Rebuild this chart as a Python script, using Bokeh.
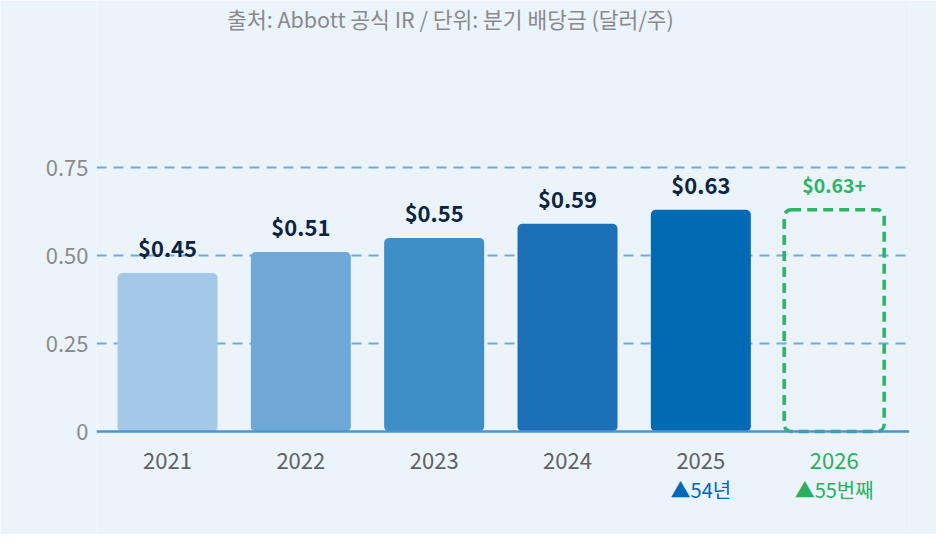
from bokeh.plotting import figure
from bokeh.models import ColumnDataSource, FixedTicker, Label, Range1d, Span
from bokeh.core.properties import value
from bokeh.embed import file_html
from bokeh.resources import INLINE

# ---- data ----
years = ["2021", "2022", "2023", "2024", "2025", "2026"]
dividends = [0.45, 0.51, 0.55, 0.59, 0.63]
forecast_value = 0.63
forecast_label = "$0.63+"
bar_colors = ["#A3C8E8", "#6FA8D6", "#3E8FC7", "#1B70B7", "#006AB2"]
year_colors = ["#5F5F5F", "#5F5F5F", "#5F5F5F", "#5F5F5F", "#5F5F5F", "#2BAE5E"]
note_years = ["2025", "2026"]
note_texts = ["▲54년", "▲55번째"]
note_colors = ["#0068B5", "#2BAE5E"]
y_ticks = [0, 0.25, 0.5, 0.75]
y_tick_labels = ["0", "0.25", "0.50", "0.75"]
title_text = "출처: Abbott 공식 IR / 단위: 분기 배당금 (달러/주)"

BG = "#EBF3FB"
GREEN = "#2DB464"
FONT = "Noto Sans CJK KR"

xs = list(range(len(years)))
bar_src = ColumnDataSource(dict(
    x=xs[:len(dividends)], top=dividends, color=bar_colors,
    label=["$%.2f" % v for v in dividends]))
fc_src = ColumnDataSource(dict(x=[xs[len(dividends)]], top=[forecast_value], label=[forecast_label]))
year_src = ColumnDataSource(dict(x=xs, y=[0] * len(xs), text=years, color=year_colors))
note_src = ColumnDataSource(dict(x=[years.index(y) for y in note_years], y=[0] * len(note_years),
                                 text=note_texts, color=note_colors))

PX = 352.0  # pixels per dollar on the y scale
p = figure(width=936, height=534, output_backend="svg", toolbar_location=None,
           x_range=Range1d(-0.5325, 5.565), y_range=Range1d(-103 / PX, 431 / PX),
           min_border_left=96, min_border_right=27, min_border_top=0, min_border_bottom=0,
           background_fill_color=BG, border_fill_color=BG, outline_line_color=None)

# grid
p.xgrid.grid_line_color = None
p.ygrid.grid_line_color = "#6AAEDD"
p.ygrid.grid_line_width = 2
p.ygrid.grid_line_dash = "10 7"
p.ygrid.ticker = FixedTicker(ticks=y_ticks[1:])

# y axis
p.yaxis.ticker = FixedTicker(ticks=y_ticks)
p.yaxis.major_label_overrides = {t: l for t, l in zip(y_ticks, y_tick_labels)}
p.yaxis.axis_line_color = None
p.yaxis.major_tick_line_color = None
p.yaxis.minor_tick_line_color = None
p.yaxis.major_label_standoff = 2
p.yaxis.major_label_text_font = FONT
p.yaxis.major_label_text_font_size = "22px"
p.yaxis.major_label_text_color = "#8A8A8A"

# x axis hidden; baseline drawn as a span at zero
p.xaxis.visible = False
p.add_layout(Span(location=0, dimension="width", line_color="#4F93CC", line_width=2.5))

# bars
p.vbar(x="x", top="top", bottom=0, width=0.75, source=bar_src, fill_color="color",
       line_color=None, border_radius=5)
p.vbar(x="x", top="top", bottom=0, width=0.75, source=fc_src, fill_alpha=0,
       line_color=GREEN, line_width=3.5, line_dash="10 6", border_radius=7)

# value labels
p.text(x="x", y="top", text="label", source=bar_src, text_align="center",
       text_baseline="alphabetic", y_offset=-26, text_font=value(FONT),
       text_font_style="bold", text_font_size="22px", text_color="#0B2540")
p.text(x="x", y="top", text="label", source=fc_src, text_align="center",
       text_baseline="alphabetic", y_offset=-25, text_font=value(FONT),
       text_font_style="bold", text_font_size="19.5px", text_color=GREEN)

# category labels
p.text(x="x", y="y", text="text", source=year_src, text_align="center",
       text_baseline="middle", y_offset=29, text_font=value(FONT),
       text_font_size="22px", text_color="color")
p.text(x="x", y="y", text="text", source=note_src, text_align="center",
       text_baseline="middle", y_offset=58, text_font=value(FONT),
       text_font_size="20px", text_color="color")

# title
p.add_layout(Label(x=354, y=516, x_units="screen", y_units="screen", text=title_text,
                   text_align="center", text_baseline="middle", text_font=FONT,
                   text_font_size="21.5px", text_color="#8A8A8A"))

open("out.html", "w").write(file_html(p, INLINE))
